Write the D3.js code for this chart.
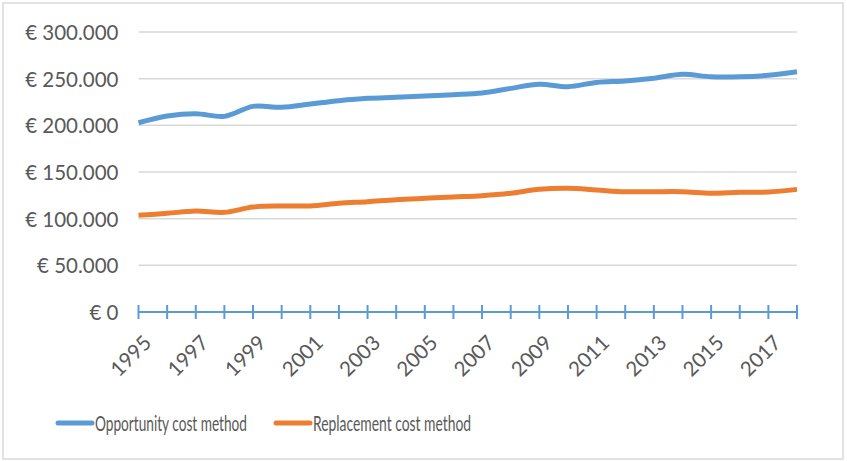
<!DOCTYPE html>
<html>
<head>
<meta charset="utf-8">
<script src="https://cdn.jsdelivr.net/npm/d3@7"></script>
<style>
  html, body { margin: 0; padding: 0; background: #fff; }
  svg text { font-family: Lato, "Open Sans", sans-serif; fill: #595959; }
</style>
</head>
<body>
<svg id="chart" width="847" height="461"></svg>
<script>
// Annual values, 1995–2018
const years = d3.range(1995, 2019);
const opportunityCost = [
  202800, 210000, 212500, 209600, 220300, 219300, 222800, 226400, 229000, 230000,
  231400, 232800, 234600, 239600, 244000, 241400, 246000, 247500, 250400, 254600,
  252000, 252000, 253600, 257500
];
const replacementCost = [
  103600, 105700, 108200, 106800, 112500, 113600, 113600, 116400, 118200, 120300,
  121800, 123200, 124600, 127200, 131400, 132500, 130700, 128900, 128900, 128900,
  127200, 128200, 128500, 131400
];
const yTicks = [0, 50000, 100000, 150000, 200000, 250000, 300000];
const xLabelYears = years.filter(y => (y - 1995) % 2 === 0 && y < 2018);

const series = [
  { name: "Opportunity cost method", values: opportunityCost, color: "#5B9BD5" },
  { name: "Replacement cost method", values: replacementCost, color: "#ED7D31" }
];

const svg = d3.select("#chart");

// outer frame
svg.append("rect")
  .attr("x", 3).attr("y", 3).attr("width", 840).attr("height", 456)
  .attr("fill", "#fff").attr("stroke", "#d9d9d9").attr("stroke-width", 1.5);

const plot = { left: 138.5, right: 797, top: 32, bottom: 312 };

const x = d3.scalePoint().domain(years).range([plot.left, plot.right]);
const y = d3.scaleLinear().domain([0, 300000]).range([plot.bottom, plot.top]);

const fmt = v => v === 0 ? "€ 0" : "€ " + d3.format(",")(v).replace(/,/g, ".");

// horizontal gridlines
svg.append("g")
  .selectAll("line")
  .data(yTicks.filter(t => t > 0))
  .join("line")
  .attr("x1", plot.left).attr("x2", plot.right)
  .attr("y1", d => y(d)).attr("y2", d => y(d))
  .attr("stroke", "#d9d9d9").attr("stroke-width", 1.5);

// y axis labels
const yAxis = d3.axisLeft(y).tickValues(yTicks).tickFormat(fmt).tickSize(0).tickPadding(20);
const gy = svg.append("g").attr("transform", `translate(${plot.left},0)`).call(yAxis);
gy.select(".domain").remove();
gy.selectAll("text")
  .style("font-size", "20.5px")
  .attr("dy", "0.36em");

// x axis: line with crossing tick marks
const gx = svg.append("g").attr("transform", `translate(0,${plot.bottom})`);
gx.append("line")
  .attr("x1", plot.left).attr("x2", plot.right)
  .attr("stroke", "#5B9BD5").attr("stroke-width", 2);
gx.selectAll("line.tick")
  .data(years)
  .join("line")
  .attr("class", "tick")
  .attr("x1", d => x(d)).attr("x2", d => x(d))
  .attr("y1", -7).attr("y2", 7)
  .attr("stroke", "#5B9BD5").attr("stroke-width", 2);
gx.selectAll("text")
  .data(xLabelYears)
  .join("text")
  .attr("transform", d => `translate(${x(d) + 9},${27}) rotate(-45)`)
  .attr("text-anchor", "end")
  .attr("dy", "0.35em")
  .style("font-size", "20.5px")
  .text(d => d);

// series lines
const line = d3.line()
  .x((d, i) => x(years[i]))
  .y(d => y(d))
  .curve(d3.curveCatmullRom.alpha(0.5));

svg.append("g")
  .selectAll("path")
  .data(series)
  .join("path")
  .attr("d", d => line(d.values))
  .attr("fill", "none")
  .attr("stroke", d => d.color)
  .attr("stroke-width", 5)
  .attr("stroke-linejoin", "round")
  .attr("stroke-linecap", "butt");

// legend
const legendX = [58, 276];
const legendTextW = [152, 158];
const legend = svg.append("g")
  .selectAll("g")
  .data(series)
  .join("g")
  .attr("transform", (d, i) => `translate(${legendX[i]},423)`);
legend.append("line")
  .attr("x1", 0).attr("x2", 34)
  .attr("stroke", d => d.color).attr("stroke-width", 5).attr("stroke-linecap", "round");
legend.append("text")
  .attr("x", 37)
  .attr("dy", "0.36em")
  .attr("textLength", (d, i) => legendTextW[i])
  .attr("lengthAdjust", "spacingAndGlyphs")
  .style("font-size", "21px")
  .text(d => d.name);
</script>
</body>
</html>
